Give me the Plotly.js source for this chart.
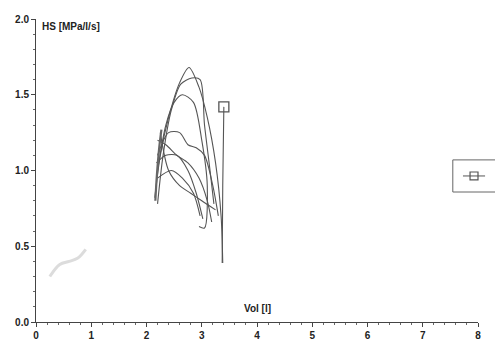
<!DOCTYPE html>
<html>
<head>
<meta charset="utf-8">
<script src="https://cdn.plot.ly/plotly-3.0.1.min.js"></script>
<style>html,body{margin:0;padding:0;background:#fff;}#chart{width:495px;height:347px;}</style>
</head>
<body>
<div id="chart"></div>
<script>
// Loop curves (Vol [l], HS [MPa/l/s])
const loopA_x = [2.15, 2.25, 2.40, 2.60, 2.77, 2.95, 3.10, 3.25, 3.35, 3.38];
const loopA_y = [0.82, 1.10, 1.35, 1.58, 1.68, 1.55, 1.35, 1.05, 0.70, 0.39];
const loopB_x = [2.20, 2.30, 2.45, 2.62, 2.82, 2.97, 3.05, 3.15, 3.22];
const loopB_y = [0.78, 1.10, 1.40, 1.57, 1.61, 1.60, 1.30, 1.00, 0.78];
const loopC_x = [2.20, 2.35, 2.50, 2.65, 2.85, 3.00, 3.10, 3.05, 2.95];
const loopC_y = [1.00, 1.30, 1.45, 1.50, 1.45, 1.20, 0.90, 0.62, 0.63];
const loopD_x = [2.20, 2.40, 2.60, 2.75, 2.90, 3.05, 3.20, 3.30];
const loopD_y = [1.10, 1.25, 1.25, 1.17, 1.15, 1.10, 0.90, 0.70];
const loopE_x = [2.20, 2.35, 2.55, 2.75, 2.95, 3.10, 3.18];
const loopE_y = [1.20, 1.17, 1.10, 1.05, 0.95, 0.80, 0.66];
const loopF_x = [2.18, 2.35, 2.55, 2.75, 2.90, 3.02];
const loopF_y = [1.05, 1.10, 1.10, 1.00, 0.85, 0.68];
const loopG_x = [2.20, 2.45, 2.65, 2.85, 2.97];
const loopG_y = [0.95, 1.00, 0.95, 0.85, 0.70];
const loopH_x = [2.25, 2.40, 2.60, 2.80, 3.00, 3.25];
const loopH_y = [1.25, 1.00, 0.90, 0.85, 0.80, 0.74];
const leftEdge_x = [2.16, 2.19, 2.23, 2.27];
const leftEdge_y = [0.80, 0.98, 1.15, 1.27];
const stem_x = [3.40, 3.38, 3.37];
const stem_y = [1.42, 0.90, 0.39];
const faint_x = [0.25, 0.43, 0.60, 0.75, 0.90];
const faint_y = [0.30, 0.38, 0.40, 0.42, 0.48];
const marker_x = [3.40];
const marker_y = [1.42];

const xTicks = [0, 1, 2, 3, 4, 5, 6, 7, 8];
const yTicks = [0.0, 0.5, 1.0, 1.5, 2.0];

const loops = [
  [loopA_x, loopA_y], [loopB_x, loopB_y], [loopC_x, loopC_y], [loopD_x, loopD_y],
  [loopE_x, loopE_y], [loopF_x, loopF_y], [loopG_x, loopG_y], [loopH_x, loopH_y],
  [stem_x, stem_y]
];
const traces = loops.map(([x, y]) => ({
  x: x, y: y, type: 'scatter', mode: 'lines', showlegend: false,
  line: {color: '#555', width: 1.1, shape: 'spline', smoothing: 0.8}, hoverinfo: 'skip'
}));
traces.push({
  x: leftEdge_x, y: leftEdge_y, type: 'scatter', mode: 'lines', showlegend: false,
  line: {color: '#666', width: 2.2, shape: 'spline'}, hoverinfo: 'skip'
});
traces.push({
  x: faint_x, y: faint_y, type: 'scatter', mode: 'lines', showlegend: false,
  line: {color: '#dcdcdc', width: 3, shape: 'spline'}, hoverinfo: 'skip'
});
traces.push({
  x: marker_x, y: marker_y, type: 'scatter', mode: 'markers', showlegend: false,
  marker: {symbol: 'square-open', size: 10, color: '#555', line: {width: 1.3}}
});

const f = {family: 'Liberation Sans, Arial, sans-serif', size: 10, color: '#222', weight: 'bold'};
const layout = {
  width: 495, height: 347,
  margin: {l: 36, r: 17, t: 19, b: 25},
  paper_bgcolor: '#fff', plot_bgcolor: '#fff',
  font: f,
  showlegend: false,
  xaxis: {
    range: [0, 8], tickvals: xTicks, ticktext: xTicks.map(String),
    showgrid: false, zeroline: false, showline: true, linecolor: '#444', linewidth: 1,
    ticks: 'outside', ticklen: 4, tickcolor: '#444', tickfont: f,
    minor: {dtick: 0.2, ticks: 'outside', ticklen: 2, tickcolor: '#666', showgrid: false}
  },
  yaxis: {
    range: [0, 2], tickvals: yTicks, ticktext: yTicks.map(v => v.toFixed(1)),
    showgrid: false, zeroline: false, showline: true, linecolor: '#444', linewidth: 1,
    ticks: 'outside', ticklen: 4, tickcolor: '#444', tickfont: f,
    minor: {dtick: 0.1, ticks: 'outside', ticklen: 2, tickcolor: '#666', showgrid: false}
  },
  shapes: [
    // legend box (cut off at the right edge, as in the reference)
    {type: 'rect', xref: 'paper', yref: 'paper', x0: 0.943, x1: 1.2, y0: 0.429, y1: 0.535,
     line: {color: '#666', width: 1}, fillcolor: '#fff'},
    {type: 'line', xref: 'paper', yref: 'paper', x0: 0.966, x1: 1.016, y0: 0.482, y1: 0.482,
     line: {color: '#555', width: 1}},
    {type: 'rect', xref: 'paper', yref: 'paper', x0: 0.982, x1: 1.0, y0: 0.469, y1: 0.495,
     line: {color: '#555', width: 1.2}}
  ],
  annotations: [
    {text: 'HS [MPa/l/s]', xref: 'paper', yref: 'paper', x: 0.008, y: 0.975,
     xanchor: 'left', yanchor: 'middle', showarrow: false, font: f},
    {text: 'Vol [l]', xref: 'x', yref: 'paper', x: 4.0, y: 0.045,
     xanchor: 'center', yanchor: 'middle', showarrow: false, font: f}
  ]
};
Plotly.newPlot('chart', traces, layout, {displayModeBar: false, staticPlot: true});
</script>
</body>
</html>
